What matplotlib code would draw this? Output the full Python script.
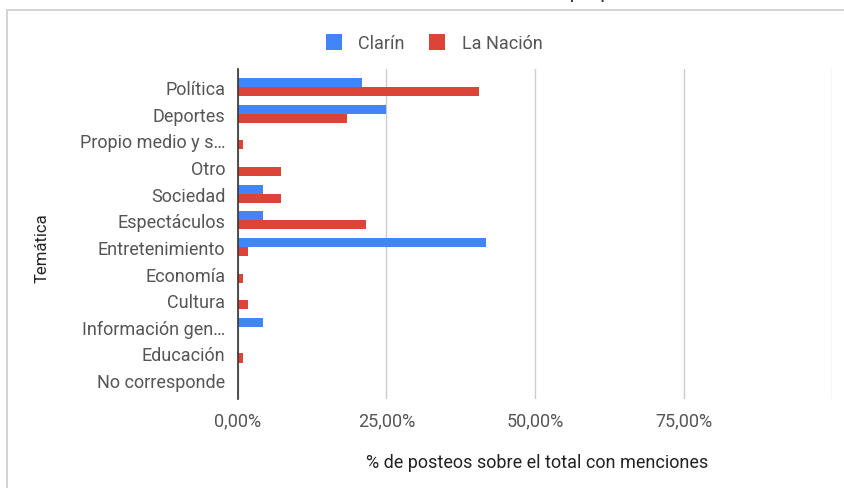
import matplotlib.pyplot as plt
import numpy as np
from matplotlib.patches import Rectangle

categorias = ['Política', 'Deportes', 'Propio medio y s…', 'Otro', 'Sociedad',
              'Espectáculos', 'Entretenimiento', 'Economía', 'Cultura',
              'Información gen…', 'Educación', 'No corresponde']
clarin = [20.8, 25.0, 0, 0, 4.2, 4.2, 41.7, 0, 0, 4.2, 0, 0]
la_nacion = [40.6, 18.4, 0.8, 7.2, 7.2, 21.6, 1.6, 0.8, 1.6, 0, 0.8, 0]
xticks = [0, 25, 50, 75, 100]
xticklabels = ['0,00%', '25,00%', '50,00%', '75,00%', '']

plt.rcParams['font.family'] = ['Roboto', 'DejaVu Sans']

fig = plt.figure(figsize=(8.45, 4.89), dpi=100)
# marco gris del grafico
fig.patches.append(Rectangle((7 / 845, -0.1), 1.2, 1 - 11 / 489 + 0.1,
                             transform=fig.transFigure, fill=False,
                             edgecolor='#cccccc', linewidth=1.2))
# titulo cortado arriba, como en la captura
fig.text(0.53, 1 + 1.5 / 489, 'Posteos con mención del medio propio',
         ha='center', va='baseline', fontsize=15, color='#333333')

ax = fig.add_axes([238 / 845, 1 - 400 / 489, 594 / 845, 330 / 489])
y = np.arange(len(categorias))
h = 0.34
ax.barh(y - 0.17, clarin, height=h, color='#4285F4', label='Clarín', zorder=3)
ax.barh(y + 0.17, la_nacion, height=h, color='#DB4437', label='La Nación', zorder=3)

ax.set_xlim(0, 100)
ax.set_ylim(11.71, -0.68)
ax.set_yticks(y)
ax.set_yticklabels(categorias)
ax.set_xticks(xticks)
ax.set_xticklabels(xticklabels)
ax.tick_params(axis='both', length=0, labelsize=13, labelcolor='#555555')
ax.tick_params(axis='y', pad=9)
ax.tick_params(axis='x', pad=9)
ax.grid(axis='x', color='#cccccc', linewidth=1, zorder=0)
for s in ['top', 'right', 'bottom']:
    ax.spines[s].set_visible(False)
ax.spines['left'].set_color('#333333')
ax.spines['left'].set_linewidth(1.2)
ax.spines['left'].set_zorder(4)

fig.text(537 / 845, 1 - 463 / 489, '% de posteos sobre el total con menciones',
         ha='center', va='center', fontsize=13, color='#222222')
fig.text(42 / 845, 1 - 248 / 489, 'Temática', rotation=90,
         ha='center', va='center', fontsize=12, color='#222222')

fig.legend(loc='center', bbox_to_anchor=(434 / 845, 1 - 44 / 489), ncol=2,
           frameon=False, fontsize=13, handlelength=0.9, handleheight=1.0,
           columnspacing=1.35, handletextpad=0.9, labelcolor='#555555')

fig.savefig('out.png', dpi=100)
